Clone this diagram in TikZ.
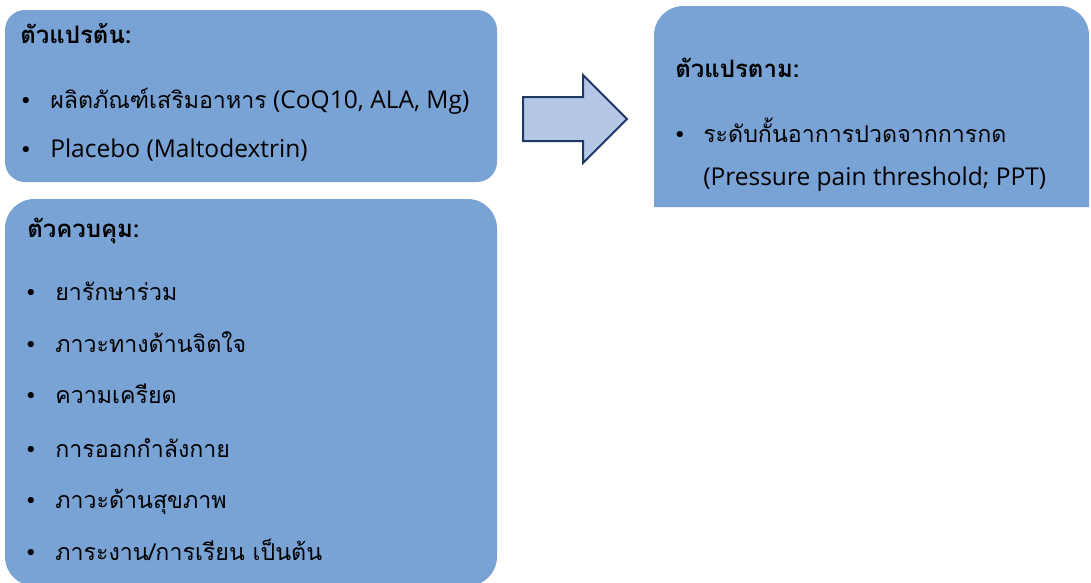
\documentclass[tikz,border=0pt]{standalone}
\usepackage{fontspec}
\setmainfont[Script=Thai]{Loma}
\newfontfamily\bulletfont{DejaVu Sans}
\newfontfamily\latfont{Open Sans}
\newcommand\eng[1]{{\latfont\fontsize{18.4}{22}\selectfont #1}}
\definecolor{boxfill}{HTML}{7AA3D5}
\definecolor{arrowfill}{HTML}{B4C7E7}
\definecolor{arrowline}{HTML}{203864}
\begin{document}
\begin{tikzpicture}[x=0.75pt,y=-0.75pt,
  panel/.style={fill=boxfill},
  txt/.style={anchor=base west,inner sep=0pt,font=\fontsize{17.4}{22}\selectfont},
  head/.style={txt,font=\fontsize{18}{22}\selectfont\bfseries},
  bul/.style={anchor=base,inner sep=0pt,font=\bulletfont\fontsize{16}{18}\selectfont}]
\useasboundingbox (0,0) rectangle (1091,582);
% panels
\fill[panel,rounded corners=15pt] (5,10) rectangle (497,182);
\fill[panel,rounded corners=22pt] (5,199) rectangle (497,586);
\fill[panel,rounded corners=22pt] (654,207) -- (654,6) -- (1089,6) -- (1089,207);
% arrow
\draw[fill=arrowfill,draw=arrowline,line width=1.5pt,line join=miter]
  (523,97) -- (583,97) -- (583,75) -- (627,119) -- (583,163) -- (583,141) -- (523,141) -- cycle;
% box 1
\node[head] (h1) at (20,43) {ตัวแปรต้น:};
\node[bul] (b11) at (26,108) {•};
\node[txt] (t11) at (50,108) {ผลิตภัณฑ์เสริมอาหาร\eng{ (CoQ10, ALA, Mg)}};
\node[bul] (b12) at (26,157) {•};
\node[txt] (t12) at (50,157) {\eng{Placebo (Maltodextrin)}};
% box 2
\node[head] (h2) at (27,237) {ตัวควบคุม:};
\node[bul] (b21) at (31,300) {•};
\node[txt] (t21) at (55,300) {ยารักษาร่วม};
\node[bul] (b22) at (31,352) {•};
\node[txt] (t22) at (55,352) {ภาวะทางด้านจิตใจ};
\node[bul] (b23) at (31,403) {•};
\node[txt] (t23) at (55,403) {ความเครียด};
\node[bul] (b24) at (31,457) {•};
\node[txt] (t24) at (55,457) {การออกกำลังกาย};
\node[bul] (b25) at (31,508) {•};
\node[txt] (t25) at (55,508) {ภาวะด้านสุขภาพ};
\node[bul] (b26) at (31,560) {•};
\node[txt] (t26) at (55,560) {ภาระงาน/การเรียน เป็นต้น};
% box 3
\node[head] (h3) at (675,77) {ตัวแปรตาม:};
\node[bul] (b31) at (680,142) {•};
\node[txt] (t31) at (703,142) {ระดับกั้นอาการปวดจากการกด};
\node[txt] (t32) at (703,185) {\eng{(Pressure pain threshold; PPT)}};
\end{tikzpicture}
\end{document}
